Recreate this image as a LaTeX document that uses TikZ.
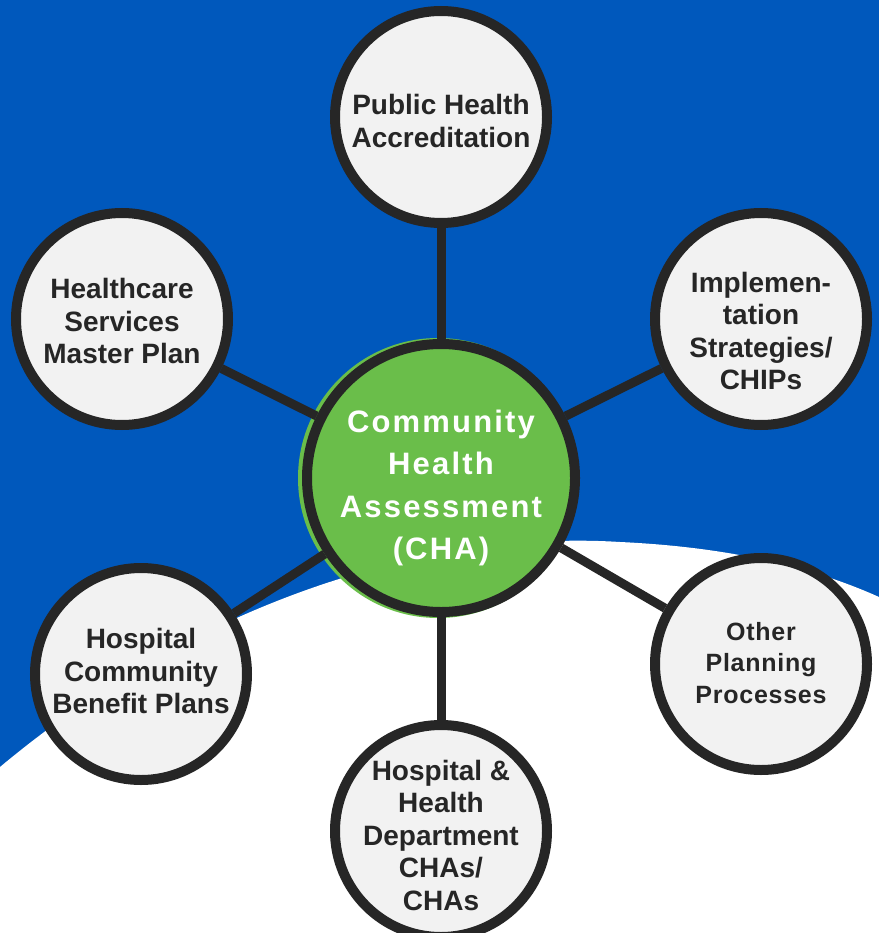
\documentclass[tikz,border=0pt]{standalone}
\usepackage{fontspec}
\setmainfont{Liberation Sans}
\newfontfamily\cfont[LetterSpace=7]{Liberation Sans}
\newfontfamily\rfont[LetterSpace=3]{Liberation Sans}
\usetikzlibrary{backgrounds}
\definecolor{bgblue}{HTML}{0058BC}
\definecolor{cgreen}{HTML}{6ABE4A}
\definecolor{darkline}{HTML}{262626}
\definecolor{lightfill}{HTML}{F2F2F2}
\tikzset{
  outer/.style={circle, draw=darkline, fill=lightfill, line width=10pt, minimum size=212pt, inner sep=0pt},
  hub/.style={circle, draw=darkline, fill=cgreen, line width=10pt, minimum size=268pt, inner sep=0pt},
  outertext/.style={inner sep=0pt, align=center, text=darkline, font=\bfseries\fontsize{28}{32.5}\selectfont},
  hubtext/.style={inner sep=0pt, align=center, text=white, font=\cfont\bfseries\fontsize{31}{42.5}\selectfont},
  link/.style={draw=darkline, line width=9pt}
}
\begin{document}
\begin{tikzpicture}[x=1pt,y=-1pt]
\useasboundingbox (0,0) rectangle (879,933);
\node[hub] (cha) at (441,478) {};
\node[outer] (pha) at (441,117) {};
\node[outer] (hsm) at (122,319) {};
\node[outer] (imp) at (761,319) {};
\node[outer] (hcb) at (141,674) {};
\node[outer] (opp) at (761,664) {};
\node[outer] (hhd) at (441,831) {};
\node[hubtext] (chat) at (441,488) {Community\\Health\\Assessment\\(CHA)};
\node[outertext] (phat) at (441,121) {Public Health\\Accreditation};
\node[outertext] (hsmt) at (122,321) {Healthcare\\Services\\Master Plan};
\node[outertext] (impt) at (761,331) {Implemen-\\tation\\Strategies/\\CHIPs};
\node[outertext] (hcbt) at (141,671) {Hospital\\Community\\Benefit Plans};
\node[outertext, font=\rfont\bfseries\fontsize{25}{31.5}\selectfont] (oppt) at (761,663) {Other\\Planning\\Processes};
\node[outertext] (hhdt) at (441,835) {Hospital \&\\Health\\Department\\CHAs/\\CHAs};
\begin{pgfonlayer}{background}
  \fill[bgblue] (0,0) rectangle (879,933);
  \fill[white] (0,767) .. controls (200,600) and (430,530) .. (620,542)
     .. controls (750,548) and (830,575) .. (879,597) -- (879,933) -- (0,933) -- cycle;
  \fill[cgreen] (438,478) circle (140);
  \draw[link] (cha) -- (pha);
  \draw[link] (cha) -- (hsm);
  \draw[link] (cha) -- (imp);
  \draw[link] (cha) -- (hcb);
  \draw[link] (cha) -- (opp);
  \draw[link] (cha) -- (hhd);
\end{pgfonlayer}
\end{tikzpicture}
\end{document}
